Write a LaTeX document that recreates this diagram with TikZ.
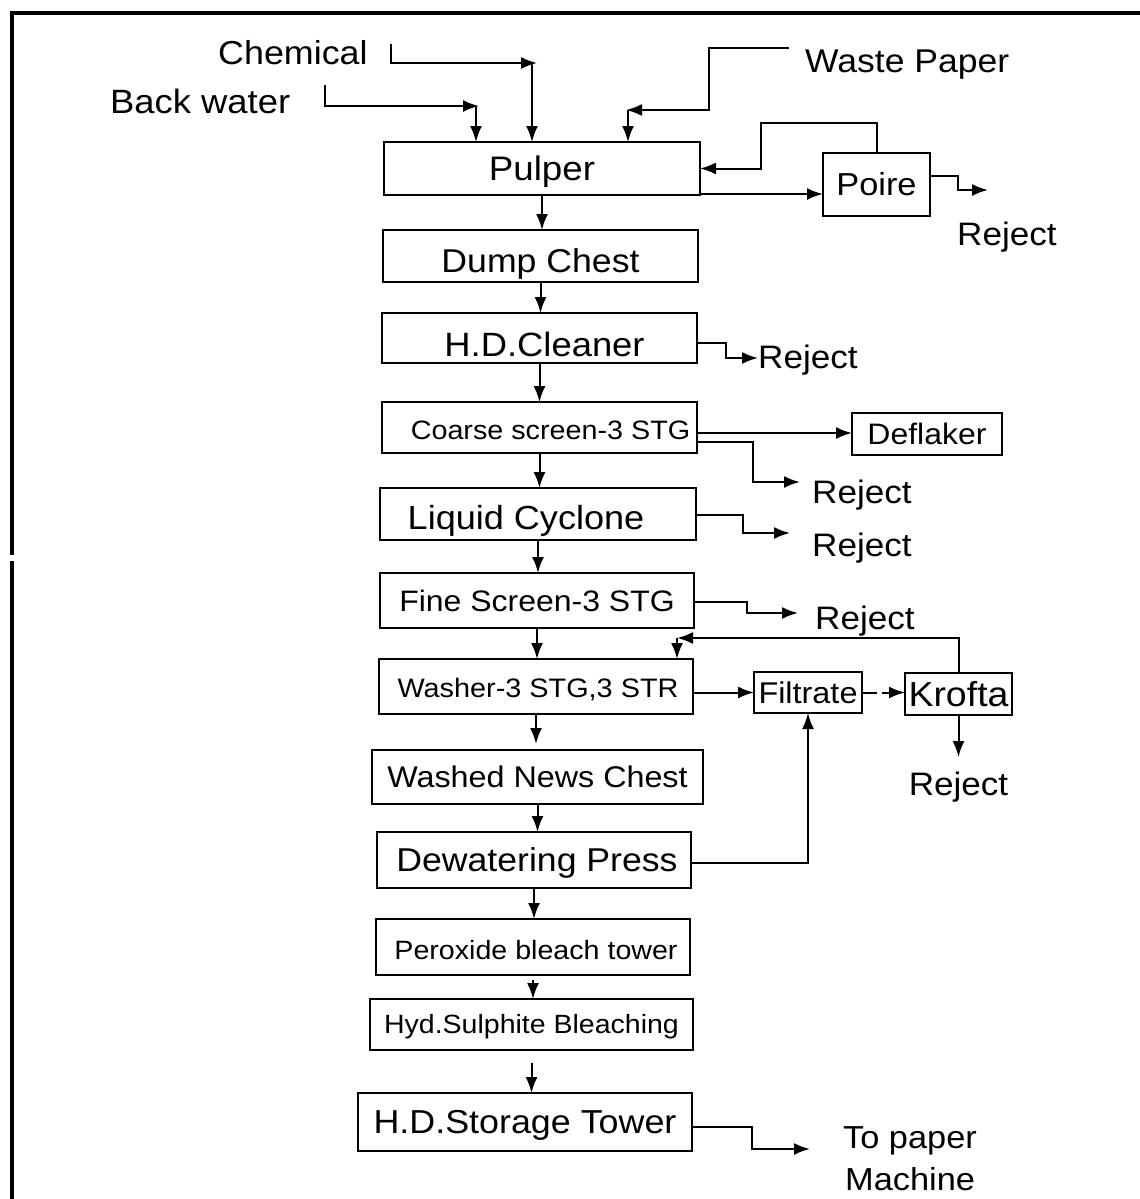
\documentclass[tikz,border=0pt]{standalone}
\usepackage{fontspec}
\setmainfont{Liberation Sans}[FakeStretch=1.08]
\usetikzlibrary{arrows.meta}
\begin{document}
\begin{tikzpicture}[x=1pt,y=-1pt,
  box/.style={draw, line width=2pt, inner sep=0pt, outer sep=0pt},
  tx/.style={font=\fontsize{#1}{#1}\selectfont,
     /utils/exec={\pgfmathsetmacro\txh{0.716*#1}}, text height=\txh pt, text depth=0pt},
  lf/.style={font=\fontsize{#1}{#1}\selectfont, inner sep=0pt, anchor=base west},
  arr/.style={line width=2pt, -{Latex[length=16pt,width=12pt]}},
  frame/.style={line width=4pt}]
\useasboundingbox (0,0) rectangle (1140,1199);
% frame
\draw[frame] (12,555) -- (12,13) -- (1140,13);
\draw[frame] (12,561) -- (12,1199);

% main column
\node[box, tx=34, minimum width=316pt, minimum height=53pt] (pulper) at (542,168.5) {Pulper};
\node[box, tx=33, minimum width=315pt, minimum height=52pt] (dump) at (540.5,256) {\raisebox{-5pt}{Dump Chest}};
\node[box, tx=33.7, minimum width=315pt, minimum height=50pt] (hdc) at (539.5,338) {\hspace*{10pt}\raisebox{-6pt}{H.D.Cleaner}};
\node[box, tx=26.6, minimum width=315pt, minimum height=51pt] (coarse) at (539.5,427.5) {\hspace*{22pt}\raisebox{-2pt}{Coarse screen-3 STG}};
\node[box, tx=33.4, minimum width=316pt, minimum height=52pt] (liquid) at (538,514) {\hspace*{-24pt}\raisebox{-4pt}{Liquid Cyclone}};
\node[box, tx=29.6, minimum width=314pt, minimum height=55pt] (fine) at (537,600.5) {Fine Screen-3 STG};
\node[box, tx=26.7, minimum width=314pt, minimum height=55pt] (washer) at (536,686.5) {\hspace*{4pt}\raisebox{-1.5pt}{Washer-3 STG,3 STR}};
\node[box, tx=29.9, minimum width=331pt, minimum height=54pt] (washed) at (537.5,777) {Washed News Chest};
\node[box, tx=33, minimum width=314pt, minimum height=56pt] (dewater) at (534,860) {\hspace*{6pt}Dewatering Press};
\node[box, tx=26.5, minimum width=314pt, minimum height=56pt] (perox) at (533,947) {\hspace*{6pt}\raisebox{-3pt}{Peroxide bleach tower}};
\node[box, tx=26.4, minimum width=323pt, minimum height=51pt] (hyd) at (531.5,1024.5) {Hyd.Sulphite Bleaching};
\node[box, tx=33.2, minimum width=334pt, minimum height=58pt] (storage) at (525,1122) {H.D.Storage Tower};

% side boxes
\node[box, tx=31.8, minimum width=107pt, minimum height=63pt] (poire) at (876.5,184.5) {Poire};
\node[box, tx=29.6, minimum width=150pt, minimum height=42pt] (deflaker) at (927,434) {Deflaker};
\node[box, tx=30, minimum width=108pt, minimum height=41pt] (filtrate) at (808,692.5) {Filtrate};
\node[box, tx=34.7, minimum width=107pt, minimum height=42pt] (krofta) at (958.5,694) {Krofta};

% free labels
\node[lf=33.2] (chem) at (218,65) {Chemical};
\node[lf=33.7] (back) at (110,113) {Back water};
\node[lf=32.9] (waste) at (805,72) {Waste Paper};
\node[lf=32.5] (rj1) at (957,245) {Reject};
\node[lf=32.5] (rj2) at (758,368) {Reject};
\node[lf=32.5] (rj3) at (812,503) {Reject};
\node[lf=32.5] (rj4) at (812,556) {Reject};
\node[lf=32.5] (rj5) at (815,629) {Reject};
\node[lf=32.5, anchor=base] (rj6) at (958.5,795) {Reject};
\node[lf=31.8] (tp1) at (843,1148) {To paper};
\node[lf=31.8] (tp2) at (845,1190) {Machine};

% inputs to pulper
\coordinate (chs) at (391,44);
\coordinate (chc) at (537,63);
\draw[arr] (chs) |- (chc);
\draw[arr] (chc -| 532,0) -- (532,0 |- pulper.north);
\coordinate (bws) at (325,85);
\coordinate (bwc) at (479,106);
\draw[arr] (bws) |- (bwc);
\draw[arr] (476,106) -- (476,0 |- pulper.north);
\coordinate (wps) at (789,48);
\coordinate (wpc) at (626,110);
\draw[arr] (wps) -| (709,110) -- (wpc);
\draw[arr] (628,110) -- (628,0 |- pulper.north);

% pulper / poire
\coordinate (p1) at ([yshift=-25.5pt]pulper.east);
\draw[arr] (p1) -- (poire.west |- p1);
\draw[arr] (poire.north) |- (761,123) |- (pulper.east);
\coordinate (pr) at (988,190);
\draw[arr] ([yshift=8.5pt]poire.east) -| (958,190) -- (pr);

% main down arrows
\draw[arr] (pulper.south) -- (pulper.south |- dump.north);
\draw[arr] (dump.south) -- (dump.south |- hdc.north);
\draw[arr] (hdc.south) -- (hdc.south |- coarse.north);
\draw[arr] (coarse.south) -- (coarse.south |- liquid.north);
\draw[arr] (liquid.south) -- (liquid.south |- fine.north);
\draw[arr] (fine.south) -- (fine.south |- washer.north);
\draw[arr] (washer.south) -- ([yshift=6pt]washer.south |- washed.north);
\draw[arr] (washed.south) -- (washed.south |- dewater.north);
\draw[arr] (dewater.south) -- (dewater.south |- perox.north);
\draw[arr] ([yshift=-5pt]perox.south) -- (perox.south |- hyd.north);
\draw[arr] ([yshift=-13pt]hyd.south) -- (hyd.south |- storage.north);

% rejects
\coordinate (r2) at (758,358);
\draw[arr] ([yshift=-5pt]hdc.east) -| (726,358) -- (r2);
\draw[arr] ([yshift=-5.5pt]coarse.east) -- (deflaker.west |- 0,433);
\coordinate (r3) at (800,482);
\draw[arr] ([yshift=-14.5pt]coarse.east) -| (753,482) -- (r3);
\coordinate (r4) at (790,533);
\draw[arr] ([yshift=-1pt]liquid.east) -| (743,533) -- (r4);
\coordinate (r5) at (798,613);
\draw[arr] ([yshift=-1.5pt]fine.east) -| (747,613) -- (r5);

% washer loop
\draw[arr] (washer.east |- filtrate.west) -- (filtrate.west);
\draw[arr, dash pattern=on 15pt off 5pt] (filtrate.east) -- (krofta.west |- filtrate.east);
\coordinate (rc) at (677,638);
\draw[arr] (krofta.north) |- (rc);
\draw[arr] (rc) -- (rc |- washer.north);
\coordinate (r6) at (958.5,757);
\draw[arr] (krofta.south) -- (r6);
\draw[arr] ([yshift=-3pt]dewater.east) -| (filtrate.south);

% to paper machine
\coordinate (pm) at (810,1149);
\draw[arr] ([yshift=-5pt]storage.east) -| (752,1149) -- (pm);
\end{tikzpicture}
\end{document}
